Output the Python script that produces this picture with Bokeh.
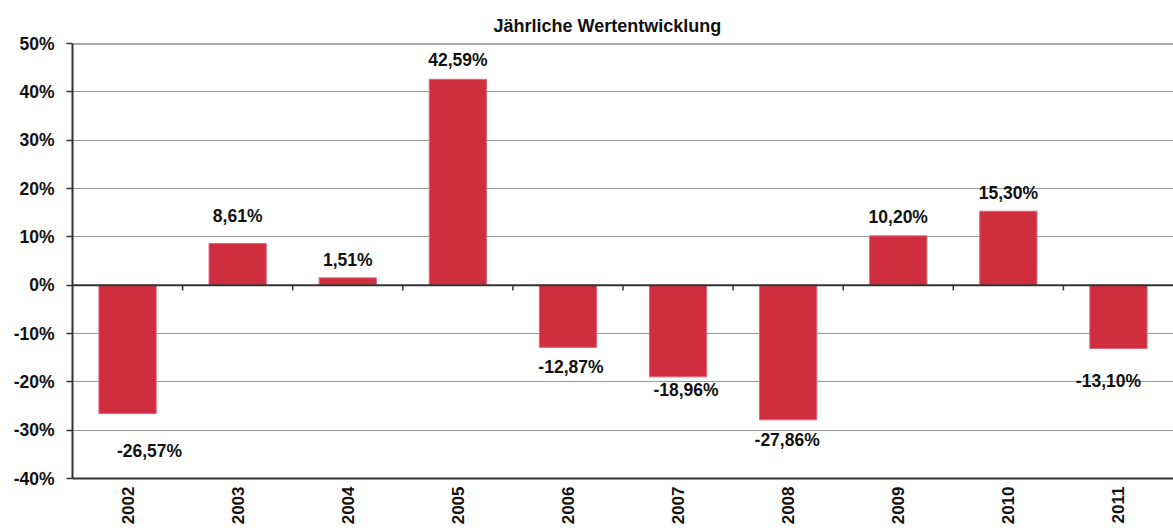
from math import pi
from bokeh.plotting import figure
from bokeh.models import (ColumnDataSource, FactorRange, Range1d, FixedTicker,
                          PrintfTickFormatter, Span)
from bokeh.transform import dodge
from bokeh.core.properties import value
from bokeh.embed import file_html
from bokeh.resources import INLINE

# ---- data ----
years = ["2002", "2003", "2004", "2005", "2006", "2007", "2008", "2009", "2010", "2011"]
returns = [-26.57, 8.61, 1.51, 42.59, -12.87, -18.96, -27.86, 10.20, 15.30, -13.10]
y_ticks = [-40, -30, -20, -10, 0, 10, 20, 30, 40, 50]
title_text = "Jährliche Wertentwicklung"

# ---- label placement (screen px, style only) ----
label_dx = [22, 0, 0, 0, 3, 8, -1, 0, 0, -10]
label_dy = [37, -28, -18, -19, 20, 13, 20, -19, -18, 33]

FONT = "Liberation Sans"
BAR = "#CF2E3E"

labels = [("%.2f" % v).replace(".", ",") + "%" for v in returns]
src = ColumnDataSource(dict(cat=years, val=returns, lab=labels, dx=label_dx, dy=label_dy))

p = figure(width=1173, height=532, output_backend="svg", toolbar_location=None,
           x_range=FactorRange(*years, range_padding=0),
           y_range=Range1d(y_ticks[0], y_ticks[-1]),
           min_border_left=72, min_border_right=0, min_border_top=43, min_border_bottom=54,
           title=title_text)
p.outline_line_color = None
p.background_fill_color = "white"
p.border_fill_color = "white"

p.title.align = "left"
p.title.offset = 421
p.title.text_font = FONT
p.title.text_font_style = "bold"
p.title.text_font_size = "18px"
p.title.text_color = "#111111"
p.title.standoff = 15

# grid
p.xgrid.grid_line_color = None
p.ygrid.grid_line_color = "#9a9a9a"
p.ygrid.grid_line_width = 1
p.ygrid.ticker = FixedTicker(ticks=y_ticks)

# y axis
p.yaxis.ticker = FixedTicker(ticks=y_ticks)
p.yaxis.formatter = PrintfTickFormatter(format="%d%%")
p.yaxis.axis_line_color = "#333333"
p.yaxis.axis_line_width = 2
p.yaxis.major_tick_line_color = "#333333"
p.yaxis.major_tick_line_width = 1.5
p.yaxis.major_tick_out = 6
p.yaxis.major_tick_in = 0
p.yaxis.minor_tick_line_color = None
p.yaxis.major_label_text_font = FONT
p.yaxis.major_label_text_font_style = "bold"
p.yaxis.major_label_text_font_size = "17.5px"
p.yaxis.major_label_text_color = "#111111"
p.yaxis.major_label_standoff = 12

# x axis
p.xaxis.axis_line_color = "#333333"
p.xaxis.axis_line_width = 2
p.xaxis.major_tick_line_color = None
p.xaxis.major_tick_out = 0
p.xaxis.major_tick_in = 0
p.xaxis.minor_tick_line_color = None
p.xaxis.major_label_orientation = pi / 2
p.xaxis.major_label_text_font = FONT
p.xaxis.major_label_text_font_style = "bold"
p.xaxis.major_label_text_font_size = "17px"
p.xaxis.major_label_text_color = "#111111"
p.xaxis.major_label_standoff = 8

# top frame line
p.add_layout(Span(location=y_ticks[-1], dimension="width", line_color="#555555", line_width=2))

# bars
p.vbar(x="cat", top="val", bottom=0, width=0.52, source=src,
       fill_color=BAR, line_color="#E2647C", line_width=1)

# zero line
p.add_layout(Span(location=0, dimension="width", line_color="#333333", line_width=2))

# category tick marks on zero line
tick_src = ColumnDataSource(dict(cat=years[:-1], y0=[0] * (len(years) - 1), y1=[-1.1] * (len(years) - 1)))
p.segment(x0=dodge("cat", 0.5, range=p.x_range), y0="y0",
          x1=dodge("cat", 0.5, range=p.x_range), y1="y1",
          source=tick_src, line_color="#333333", line_width=1.5)

# value labels
p.text(x="cat", y="val", text="lab", x_offset="dx", y_offset="dy", source=src,
       text_align="center", text_baseline="middle",
       text_font=value(FONT), text_font_style="bold", text_font_size="17.5px",
       text_color="#111111")

open("out.html", "w").write(file_html(p, INLINE))
